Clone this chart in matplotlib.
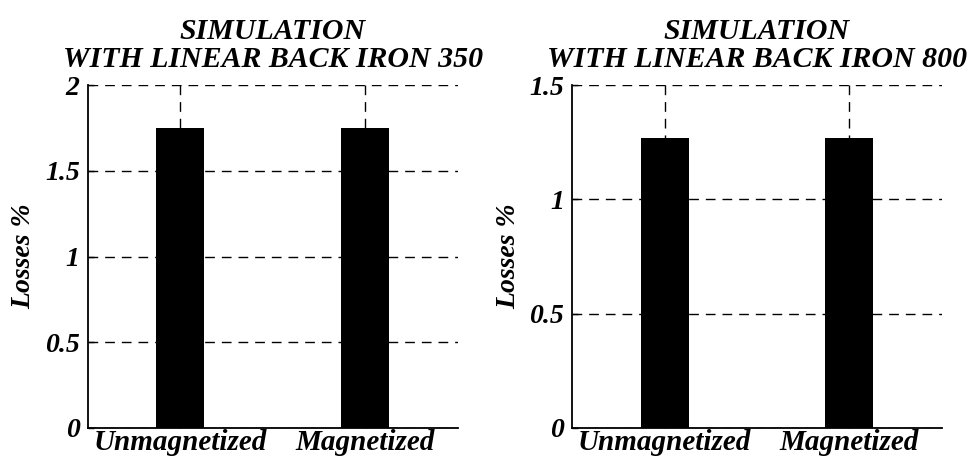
import matplotlib.pyplot as plt

# data
categories = ["Unmagnetized", "Magnetized"]
losses_350 = [1.75, 1.75]
losses_800 = [1.27, 1.27]
titles = ["SIMULATION\nWITH LINEAR BACK IRON 350", "SIMULATION\nWITH LINEAR BACK IRON 800"]
yticks_350 = [0, 0.5, 1, 1.5, 2]
yticks_800 = [0, 0.5, 1, 1.5]

font = dict(family="Liberation Serif", weight="bold", style="italic")

fig = plt.figure(figsize=(9.73, 4.62), dpi=100)
ax1 = fig.add_axes([0.0904, 0.0736, 0.380, 0.742])
ax2 = fig.add_axes([0.588, 0.0736, 0.380, 0.742])

for ax, vals, title, yt in [(ax1, losses_350, titles[0], yticks_350),
                            (ax2, losses_800, titles[1], yticks_800)]:
    x = list(range(1, len(categories) + 1))
    ax.bar(x, vals, width=0.26, color="black", zorder=2)
    ax.set_xlim(0.5, 2.5)
    ax.set_ylim(yt[0], yt[-1])
    ax.set_xticks(x)
    ax.set_xticklabels(categories, fontsize=21, **font)
    ax.set_yticks(yt)
    ax.set_yticklabels([f"{v:g}" for v in yt], fontsize=20, **font)
    ax.grid(True, color="black", linestyle=(0, (7, 5)), linewidth=1.0, zorder=1)
    ax.set_axisbelow(True)
    for s in ["top", "right"]:
        ax.spines[s].set_visible(False)
    for s in ["left", "bottom"]:
        ax.spines[s].set_linewidth(1.3)
    ax.tick_params(direction="in", length=4, width=1)
    ax.tick_params(axis="y", pad=6)
    ax.tick_params(axis="x", pad=1)
    ax.set_ylabel("Losses %", fontsize=20, labelpad=6, **font)
    ax.set_title(title, fontsize=21.5, linespacing=1.05, pad=13, **font)

plt.savefig("out.png", dpi=100)
